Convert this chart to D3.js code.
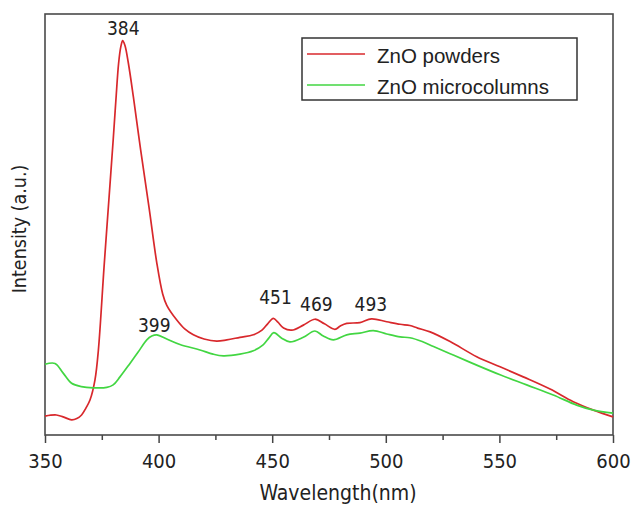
<!DOCTYPE html>
<html>
<head>
<meta charset="utf-8">
<script src="https://cdn.jsdelivr.net/npm/d3@7"></script>
<style>
  body { margin: 0; background: #fff; }
</style>
</head>
<body>
<script>
var w = 631;
var h = 505;
var margin = {left: 45, right: 18, top: 14, bottom: 70};

// ZnO powders (red)
var powderWl = [350, 355, 358, 361.7, 364, 366.1, 368, 369.8, 372, 373.5, 376, 378, 380, 381.2, 382.4, 383.4,
  384.2, 385.2, 386.7, 388.9, 392.1, 395.8, 399.2, 401.8, 403.6, 408, 411.5, 415.3, 420, 425.6,
  430, 435.8, 441.7, 445.5, 448, 450.5, 452.5, 455, 458.6, 463.7, 468.8, 473, 477.6, 480, 482.8, 488.6, 493.7,
  500.4, 506.3, 510.6, 514, 519.5, 528.3, 540, 550.3, 560.5, 572.3, 582.5, 591.4, 600];
var powderI = [4.5, 4.75, 4.3, 3.6, 3.9, 4.75, 6.4, 8.3, 13.1, 20.2, 40, 55, 70, 79.5, 88.3, 92.3,
  93.7, 92.5, 88.3, 80.3, 67.7, 54, 40.9, 33.5, 30.8, 27.3, 25.2, 23.8, 22.8, 22.3,
  22.6, 23.2, 23.8, 24.9, 26.4, 27.7, 26.8, 25.4, 24.9, 26.1, 27.5, 26.4, 25.1, 25.9, 26.5, 26.7, 27.6,
  26.9, 26.3, 26, 25.4, 24.5, 22.2, 18.6, 16.2, 13.8, 10.9, 7.9, 5.9, 4.3];

// ZnO microcolumns (green)
var columnWl = [350, 354.4, 358, 361.7, 366, 371.3, 377.2, 380, 383, 387.4, 391, 394.8, 397, 399.2, 403.6, 409.4,
  418.2, 424, 428.5, 435.8, 441.7, 446, 448.5, 450.7, 454.2, 457.8, 463.7, 468.8, 472.5, 476.9, 482.8, 488.6,
  494.5, 500.4, 506.3, 510.6, 516, 521, 529.7, 540, 550.3, 562, 573.7, 584, 591.4, 600];
var columnI = [16.8, 17, 14.7, 12.3, 11.5, 11.2, 11.3, 11.9, 13.8, 17, 19.7, 22.6, 23.5, 23.8, 22.8, 21.5,
  20.2, 19.2, 18.8, 19.2, 20, 21.4, 23, 24.3, 23, 22.1, 23.2, 24.7, 23.5, 22.6, 23.8, 24.2,
  24.8, 24, 23.3, 23.1, 22.2, 21, 19, 16.6, 14.3, 11.9, 9.5, 7.1, 5.9, 5.2];

var peakWl = [384, 399, 451, 469, 493];
var peakLabelI = [95, 24.5, 31, 29.5, 29.5];
var seriesNames = ["ZnO powders", "ZnO microcolumns"];
var seriesColors = ["#d8282c", "#42d642"];
var xTicks = [350, 400, 450, 500, 550, 600];

var svg = d3.select("body").append("svg")
  .attr("width", w)
  .attr("height", h)
  .style("font-family", "'DejaVu Sans Condensed', 'DejaVu Sans', sans-serif");

var x = d3.scaleLinear()
  .domain([350, 600])
  .range([margin.left, w - margin.right]);
var y = d3.scaleLinear()
  .domain([0, 100])
  .range([h - margin.bottom, margin.top]);

// minor ticks
svg.append("g")
  .attr("transform", "translate(0," + y(0) + ")")
  .call(d3.axisBottom(x).tickValues(d3.range(375, 600, 50)).tickSize(5).tickFormat(""))
  .call(function (g) { g.select(".domain").remove(); })
  .selectAll("line").attr("stroke", "#444").attr("stroke-width", 1.5);

var xAxis = svg.append("g")
  .attr("transform", "translate(0," + y(0) + ")")
  .call(d3.axisBottom(x).tickValues(xTicks).tickSize(8).tickPadding(11).tickFormat(d3.format("d")));
xAxis.select(".domain").remove();
xAxis.selectAll("line").attr("stroke", "#444").attr("stroke-width", 1.5);
xAxis.selectAll("text")
  .attr("font-family", "'DejaVu Sans Condensed', 'DejaVu Sans', sans-serif")
  .attr("font-size", 20)
  .attr("fill", "#222");

// frame
svg.append("rect")
  .attr("x", x(350))
  .attr("y", y(100))
  .attr("width", x(600) - x(350))
  .attr("height", y(0) - y(100))
  .attr("fill", "none")
  .attr("stroke", "#4a4a4a")
  .attr("stroke-width", 1.6);

var line = d3.line()
  .x(function (d) { return x(d[0]); })
  .y(function (d) { return y(d[1]); })
  .curve(d3.curveCatmullRom.alpha(0.5));

var series = [d3.zip(powderWl, powderI), d3.zip(columnWl, columnI)];
svg.append("g")
  .selectAll("path")
  .data(series)
  .join("path")
  .attr("d", line)
  .attr("fill", "none")
  .attr("stroke", function (d, i) { return seriesColors[i]; })
  .attr("stroke-width", 1.7);

// peak labels
svg.append("g")
  .selectAll("text")
  .data(peakWl)
  .join("text")
  .attr("x", function (d) { return x(d) + (d == 399 ? -2 : 1); })
  .attr("y", function (d, i) { return y(peakLabelI[i]); })
  .attr("text-anchor", "middle")
  .attr("font-size", 19)
  .attr("fill", "#222")
  .text(function (d) { return d; });

// axis titles
svg.append("text")
  .attr("x", 338)
  .attr("y", 500)
  .attr("text-anchor", "middle")
  .attr("font-size", 21)
  .attr("fill", "#222")
  .text("Wavelength(nm)");

svg.append("text")
  .attr("transform", "translate(26,229) rotate(-90)")
  .attr("text-anchor", "middle")
  .attr("font-size", 19.5)
  .attr("fill", "#222")
  .text("Intensity (a.u.)");

// legend
var legend = svg.append("g").attr("transform", "translate(302,38)");
legend.append("rect")
  .attr("width", 275)
  .attr("height", 62)
  .attr("fill", "#fff")
  .attr("stroke", "#333")
  .attr("stroke-width", 1.5);
var item = legend.selectAll(".item")
  .data(seriesNames)
  .join("g")
  .attr("class", "item")
  .attr("transform", function (d, i) { return "translate(0," + (16 + i * 31) + ")"; });
item.append("line")
  .attr("x1", 5).attr("x2", 63)
  .attr("stroke", function (d, i) { return seriesColors[i]; })
  .attr("stroke-width", 1.7);
item.append("text")
  .attr("x", 75)
  .attr("y", 8.5)
  .attr("font-family", "'Liberation Sans', Arial, sans-serif")
  .attr("font-size", 20.5)
  .attr("fill", "#222")
  .text(function (d) { return d; });
</script>
</body>
</html>
